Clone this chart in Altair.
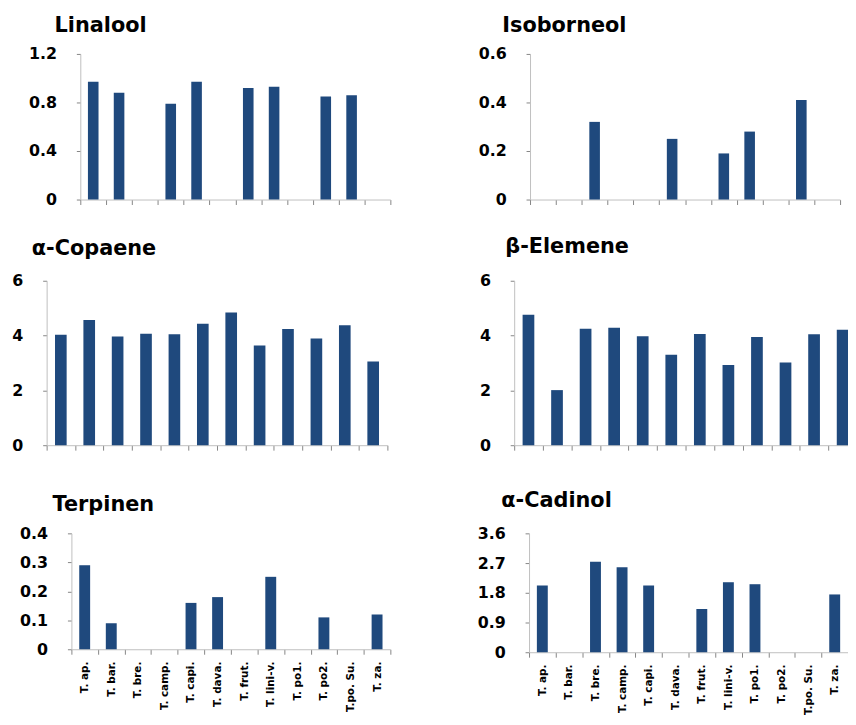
import altair as alt
import pandas as pd

categories = ["T. ap.", "T. bar.", "T. bre.", "T. camp.", "T. capi.", "T. dava.",
              "T. frut.", "T. lini-v.", "T. po1.", "T. po2.", "T.po. Su.", "T. za."]

linalool = [0.97, 0.88, None, 0.79, 0.97, None, 0.92, 0.93, None, 0.85, 0.86, None]
isoborneol = [None, None, 0.32, None, None, 0.25, None, 0.19, 0.28, None, 0.41, None]
copaene = [4.03, 4.57, 3.97, 4.07, 4.05, 4.43, 4.84, 3.64, 4.24, 3.89, 4.38, 3.05]
elemene = [4.76, 2.01, 4.25, 4.29, 3.98, 3.30, 4.06, 2.93, 3.95, 3.02, 4.05, 4.21]
terpinen = [0.29, 0.09, None, None, 0.16, 0.18, None, 0.25, None, 0.11, None, 0.12]
cadinol = [2.02, None, 2.74, 2.57, 2.02, None, 1.31, 2.12, 2.06, None, None, 1.75]

ticks_linalool = [0, 0.4, 0.8, 1.2]
ticks_isoborneol = [0, 0.2, 0.4, 0.6]
ticks_copaene = [0, 2, 4, 6]
ticks_elemene = [0, 2, 4, 6]
ticks_terpinen = [0, 0.1, 0.2, 0.3, 0.4]
ticks_cadinol = [0, 0.9, 1.8, 2.7, 3.6]

BLUE = "#1F497D"
FONT = "DejaVu Sans"


def panel(title, values, yticks, width, height, ext, tdx, toff, show_labels, shift=0):
    df = pd.DataFrame({"species": categories, "value": values})
    chart = alt.Chart(df, title=alt.TitleParams(
        title, anchor="start", frame="group", dx=tdx, offset=toff,
        font=FONT, fontSize=21, fontWeight="bold", color="black"))
    x_axis = alt.Axis(title=None, labels=show_labels, labelAngle=-90,
                      labelFontSize=10.5, labelPadding=7, labelOverlap=False,
                      tickBand="extent", tickSize=5)
    y_kw = dict(title=None, values=yticks, format=".2~g", minExtent=ext,
                labelFontSize=16, labelPadding=20, tickSize=4)
    x_scale = alt.Scale(domain=categories, paddingInner=0, paddingOuter=0)
    if shift:
        y_kw["offset"] = -shift
        x_scale = alt.Scale(domain=categories, paddingInner=0, paddingOuter=0,
                            range=[shift, shift + width])
    return chart.mark_bar(color=BLUE, width=alt.RelativeBandSize(0.41)).encode(
        x=alt.X("species:N", sort=categories, scale=x_scale, axis=x_axis),
        y=alt.Y("value:Q", scale=alt.Scale(domain=[yticks[0], yticks[-1]], nice=False),
                axis=alt.Axis(**y_kw)),
    ).properties(width=width + shift, height=height)


p1 = panel("Linalool", linalool, ticks_linalool, 313, 147, 39, 8, 10, False, shift=34)
p2 = panel("Isoborneol", isoborneol, ticks_isoborneol, 313, 147, 140, -28, 10, False)
p3 = panel("α-Copaene", copaene, ticks_copaene, 344, 166, 39, -15, 14, False)
p4 = panel("β-Elemene", elemene, ticks_elemene, 346, 166, 127, -9, 16, False)
p5 = panel("Terpinen", terpinen, ticks_terpinen, 322, 117, 39, 6, 11, True, shift=25)
p6 = panel("α-Cadinol", cadinol, ticks_cadinol, 322, 120, 139, -28, 15, True)

row1 = alt.hconcat(p1, p2, spacing=0)
row2 = alt.hconcat(p3, p4, spacing=0)
row3 = alt.hconcat(p5, p6, spacing=0)

lower = alt.vconcat(row2, row3, spacing=37)
chart = alt.vconcat(row1, lower, spacing=29).properties(
    padding={"left": 0, "top": 4, "right": -10, "bottom": -3}
).configure_view(stroke=None).configure_axis(
    grid=False,
    labelFont=FONT,
    labelFontWeight="bold",
    labelColor="black",
    domainColor="#BFBFBF",
    tickColor="#868686",
)

chart.save("out.html", embed_options={"renderer": "svg", "actions": False})
